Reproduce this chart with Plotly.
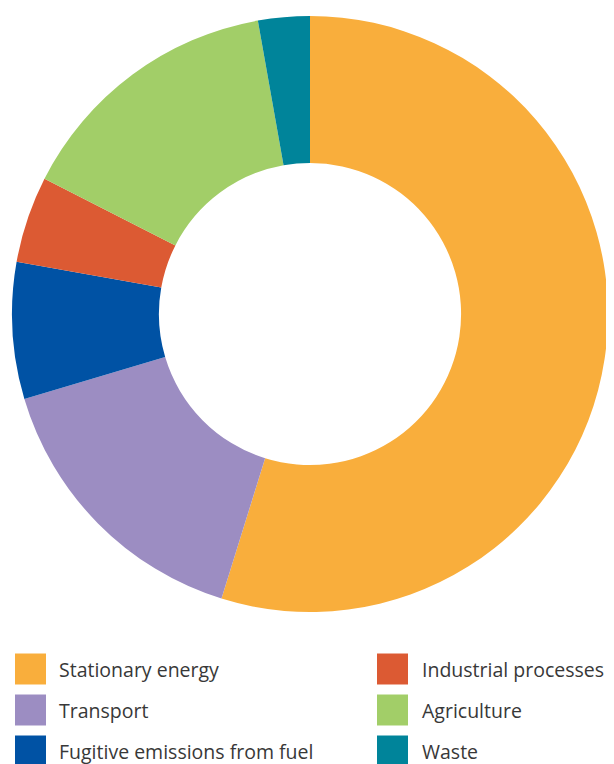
import plotly.graph_objects as go

# Slice order clockwise from 12 o'clock
sectores = ['Stationary energy', 'Transport', 'Fugitive emissions from fuel',
            'Industrial processes', 'Agriculture', 'Waste']
valores = [54.8, 15.6, 7.4, 4.7, 14.7, 2.8]
colores = ['#F9AE3C', '#9C8DC2', '#0052A4', '#DC5A33', '#A2CE68', '#00849A']

# Legend layout (two columns, rows as in the original)
leyenda_col1 = ['Stationary energy', 'Transport', 'Fugitive emissions from fuel']
leyenda_col2 = ['Industrial processes', 'Agriculture', 'Waste']

W, H = 614, 764
OFF = 8  # page body margin

fig = go.Figure()

fig.add_trace(go.Pie(
    labels=sectores,
    values=valores,
    marker=dict(colors=colores, line=dict(width=0)),
    hole=0.507,
    sort=False,
    direction='clockwise',
    rotation=0,
    textinfo='none',
    hoverinfo='label+percent',
    showlegend=False,
    domain=dict(x=[(12 - OFF) / W, (608 - OFF) / W],
                y=[(H - 612 + OFF) / H, (H - 16 + OFF) / H]),
))

color_de = dict(zip(sectores, colores))
filas_y = [669, 710, 751]
for col, (x0, xt) in zip([leyenda_col1, leyenda_col2], [(15, 57), (377, 420)]):
    for nombre, yc in zip(col, filas_y):
        x0p, xtp, ycp = x0 - OFF, xt - OFF, yc - OFF
        fig.add_shape(
            type='rect', xref='paper', yref='paper',
            x0=x0p / W, x1=(x0p + 31) / W,
            y0=(H - ycp - 15.5) / H, y1=(H - ycp + 15.5) / H,
            fillcolor=color_de[nombre], line=dict(width=0),
        )
        fig.add_annotation(
            text=nombre, xref='paper', yref='paper',
            x=xtp / W, y=(H - ycp) / H, xanchor='left', yanchor='middle',
            showarrow=False,
            font=dict(family='Open Sans', size=19.5, color='#383838'),
        )

fig.update_layout(
    width=W,
    height=H,
    margin=dict(l=0, r=0, t=0, b=0),
    paper_bgcolor='white',
    plot_bgcolor='white',
    showlegend=False,
)

fig.write_html("out.html")
